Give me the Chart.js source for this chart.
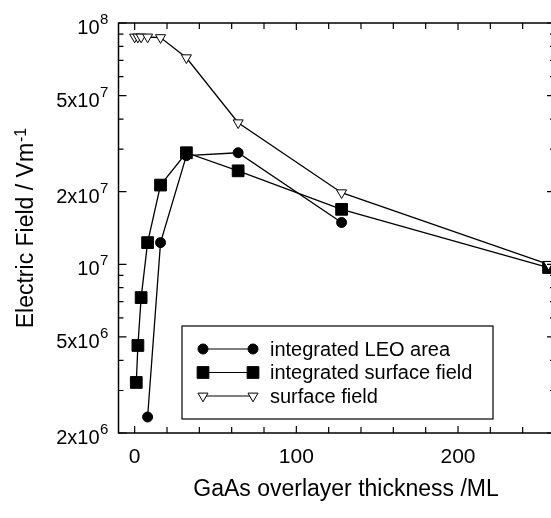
<!DOCTYPE html>
<html>
<head>
<meta charset="utf-8">
<script src="https://cdn.jsdelivr.net/npm/chart.js@4.4.1/dist/chart.umd.min.js"></script>
<style>
  html, body { margin: 0; padding: 0; background: #fff; overflow: hidden; }
  #wrap { width: 570px; height: 518px; }
</style>
</head>
<body>
<div id="wrap"><canvas id="c" width="570" height="518"></canvas></div>
<script>
// ---- data ----
const thicknessLEO = [8, 16, 32, 64, 128];
const fieldLEO = [2.33e6, 1.23e7, 2.82e7, 2.9e7, 1.49e7];

const thicknessIntSurf = [1, 2, 4, 8, 16, 32, 64, 128, 256];
const fieldIntSurf = [3.24e6, 4.61e6, 7.28e6, 1.23e7, 2.13e7, 2.9e7, 2.44e7, 1.69e7, 9.7e6];

const thicknessSurf = [0, 2, 4, 8, 16, 32, 64, 128, 256];
const fieldSurf = [8.75e7, 8.75e7, 8.75e7, 8.75e7, 8.7e7, 7.18e7, 3.86e7, 1.98e7, 1.0e7];

const seriesNames = ['integrated LEO area', 'integrated surface field', 'surface field'];

// axis ticks
const xLabelTicks = [0, 100, 200];
const xMinorTicks = [20, 40, 60, 80, 120, 140, 160, 180, 220, 240];
const yLabelTicks = [2e6, 5e6, 1e7, 2e7, 5e7, 1e8];
const yLabelBase = ['2x10', '5x10', '10', '2x10', '5x10', '10'];
const yLabelExp = ['6', '6', '7', '7', '7', '8'];
const yMinorTicks = [3e6, 4e6, 6e6, 7e6, 8e6, 9e6, 3e7, 4e7, 6e7, 7e7, 8e7, 9e7];

const xTitle = 'GaAs overlayer thickness /ML';
const yTitleMain = 'Electric Field / Vm';
const yTitleSup = '-1';

function pts(xs, ys) { return xs.map((x, i) => ({ x: x, y: ys[i] })); }

const FONT = '"Liberation Sans", Arial, Helvetica, sans-serif';

const markerStyles = [
  { pointStyle: 'circle', radius: 5, fill: '#000', rotation: 0 },
  { pointStyle: 'rect', radius: 8.3, fill: '#000', rotation: 0 },
  { pointStyle: 'triangle', radius: 5.8, fill: '#fff', rotation: 180 }
];

function drawMarker(ctx, style, x, y) {
  ctx.save();
  ctx.beginPath();
  const r = style.radius;
  if (style.pointStyle === 'circle') {
    ctx.arc(x, y, r, 0, Math.PI * 2);
  } else if (style.pointStyle === 'rect') {
    const s = Math.SQRT1_2 * r;
    ctx.rect(x - s, y - s, 2 * s, 2 * s);
  } else {
    let rad = Math.PI; // rotated 180
    ctx.moveTo(x + Math.sin(rad) * r, y - Math.cos(rad) * r);
    rad += 2 * Math.PI / 3;
    ctx.lineTo(x + Math.sin(rad) * r, y - Math.cos(rad) * r);
    rad += 2 * Math.PI / 3;
    ctx.lineTo(x + Math.sin(rad) * r, y - Math.cos(rad) * r);
    ctx.closePath();
  }
  ctx.fillStyle = style.fill;
  ctx.fill();
  ctx.strokeStyle = '#000';
  ctx.lineWidth = 1;
  ctx.stroke();
  ctx.restore();
}

const framePlugin = {
  id: 'frame',
  afterDraw(chart) {
    const ctx = chart.ctx;
    const a = chart.chartArea;
    const xs = chart.scales.x, ys = chart.scales.y;
    ctx.save();
    ctx.strokeStyle = '#000';
    ctx.lineWidth = 1.5;
    ctx.strokeRect(a.left, a.top, a.right - a.left, a.bottom - a.top);

    ctx.lineWidth = 1.2;
    ctx.beginPath();
    // x ticks (inward, bottom and top)
    const xt = xLabelTicks.map(v => [v, 7]).concat(xMinorTicks.map(v => [v, 6]));
    xt.forEach(([v, len]) => {
      const px = xs.getPixelForValue(v);
      ctx.moveTo(px, a.bottom); ctx.lineTo(px, a.bottom - len);
      ctx.moveTo(px, a.top); ctx.lineTo(px, a.top + len);
    });
    // y ticks (inward, left and right)
    const yt = yLabelTicks.map(v => [v, 8]).concat(yMinorTicks.map(v => [v, 5]));
    yt.forEach(([v, len]) => {
      const py = ys.getPixelForValue(v);
      ctx.moveTo(a.left, py); ctx.lineTo(a.left + len, py);
      ctx.moveTo(a.right, py); ctx.lineTo(a.right - len, py);
    });
    ctx.stroke();

    ctx.fillStyle = '#000';
    // x tick labels
    ctx.font = '21px ' + FONT;
    ctx.textAlign = 'center';
    ctx.textBaseline = 'alphabetic';
    xLabelTicks.forEach(v => {
      ctx.fillText(String(v), xs.getPixelForValue(v), 463);
    });
    // y tick labels with superscript
    yLabelTicks.forEach((v, i) => {
      const py = ys.getPixelForValue(v);
      ctx.font = '20px ' + FONT;
      ctx.textAlign = 'right';
      ctx.fillText(yLabelBase[i], 99.5, py + 11);
      ctx.font = '15px ' + FONT;
      ctx.textAlign = 'left';
      ctx.fillText(yLabelExp[i], 100, py + 1);
    });

    // x title
    ctx.font = '23px ' + FONT;
    ctx.textAlign = 'center';
    ctx.fillText(xTitle, 346, 496);

    // y title (rotated)
    ctx.save();
    ctx.translate(33, 228);
    ctx.rotate(-Math.PI / 2);
    ctx.font = '23px ' + FONT;
    const wMain = ctx.measureText(yTitleMain).width;
    ctx.font = '16px ' + FONT;
    const wSup = ctx.measureText(yTitleSup).width;
    const total = wMain + wSup + 1;
    ctx.textAlign = 'left';
    ctx.font = '23px ' + FONT;
    ctx.fillText(yTitleMain, -total / 2, 0);
    ctx.font = '16px ' + FONT;
    ctx.fillText(yTitleSup, -total / 2 + wMain + 1, -7);
    ctx.restore();

    // legend
    ctx.lineWidth = 1.2;
    ctx.strokeRect(182, 326, 311, 93);
    const rowsY = [349, 372.5, 396];
    seriesNames.forEach((name, i) => {
      const y = rowsY[i];
      ctx.beginPath();
      ctx.moveTo(203, y); ctx.lineTo(253, y);
      ctx.lineWidth = 1.2;
      ctx.stroke();
      drawMarker(ctx, markerStyles[i], 203, y);
      drawMarker(ctx, markerStyles[i], 253, y);
      ctx.fillStyle = '#000';
      ctx.font = '20px ' + FONT;
      ctx.textAlign = 'left';
      ctx.textBaseline = 'middle';
      ctx.fillText(name, 270, y + 1);
    });
    ctx.restore();
  }
};

function ds(label, xs, ys, st) {
  return {
    label: label,
    data: pts(xs, ys),
    showLine: true,
    borderColor: '#000',
    borderWidth: 1.3,
    pointStyle: st.pointStyle,
    pointRadius: st.radius,
    pointHoverRadius: st.radius,
    pointRotation: st.rotation,
    pointBackgroundColor: st.fill,
    pointBorderColor: '#000',
    pointBorderWidth: 1,
    tension: 0,
    clip: false
  };
}

new Chart(document.getElementById('c'), {
  type: 'scatter',
  data: {
    datasets: [
      ds(seriesNames[2], thicknessSurf, fieldSurf, markerStyles[2]),
      ds(seriesNames[1], thicknessIntSurf, fieldIntSurf, markerStyles[1]),
      ds(seriesNames[0], thicknessLEO, fieldLEO, markerStyles[0])
    ]
  },
  options: {
    responsive: false,
    animation: false,
    devicePixelRatio: 1,
    layout: { padding: { top: 23, right: 15, left: 0, bottom: 0 } },
    plugins: { legend: { display: false }, tooltip: { enabled: false } },
    scales: {
      x: {
        type: 'linear', min: -10, max: 260,
        grid: { display: false }, border: { display: false },
        ticks: { display: false },
        afterFit(s) { s.height = 85; }
      },
      y: {
        type: 'logarithmic', min: 2e6, max: 1e8,
        grid: { display: false }, border: { display: false },
        ticks: { display: false },
        afterFit(s) { s.width = 118.5; }
      }
    }
  },
  plugins: [framePlugin]
});
</script>
</body>
</html>
